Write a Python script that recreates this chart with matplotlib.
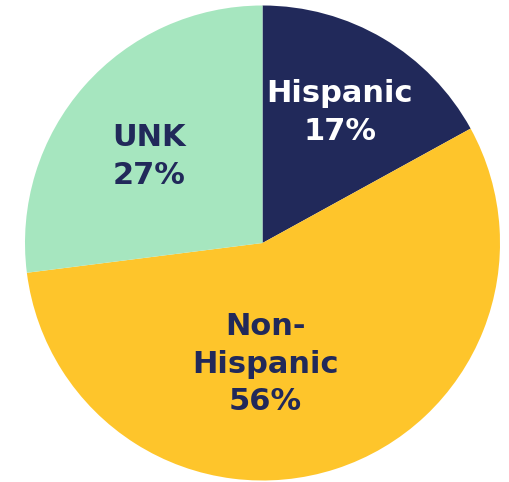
import numpy as np
import matplotlib
matplotlib.use('Agg')
import matplotlib.pyplot as plt

# ethnicity breakdown
categories = ['Hispanic', 'Non-\nHispanic', 'UNK']
shares = [17, 56, 27]
colors = ['#21295a', '#fec52b', '#a6e6bf']
text_colors = ['white', '#21295a', '#21295a']
# label placement as (radius fraction, angle offset from wedge middle in degrees)
label_pos = [(0.64, 0), (0.51, -16.5), (0.60, 4)]

fig = plt.figure(figsize=(5.1, 4.82), dpi=100)
ax = fig.add_axes([25 / 510, 1.5 / 482, 475 / 510, 475 / 482])

wedges, _ = ax.pie(shares, colors=colors, startangle=90, counterclock=False,
                   wedgeprops=dict(linewidth=0))
ax.set_xlim(-1, 1)
ax.set_ylim(-1, 1)
ax.set_aspect('equal')

for w, cat, val, tc, (r, off) in zip(wedges, categories, shares, text_colors, label_pos):
    mid = np.deg2rad((w.theta1 + w.theta2) / 2 + off)
    ax.text(r * np.cos(mid), r * np.sin(mid), '{}\n{}%'.format(cat, val),
            ha='center', va='center', color=tc, fontsize=22,
            fontweight='bold', family='DejaVu Sans', linespacing=1.38)

plt.savefig('out.png', dpi=100)
